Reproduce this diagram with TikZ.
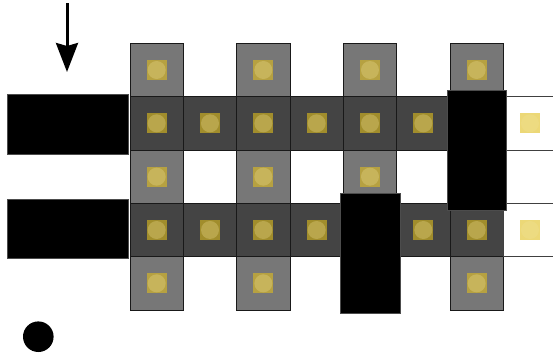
\documentclass[tikz,border=0pt]{standalone}
\usetikzlibrary{arrows.meta}
\definecolor{lgray}{HTML}{777777}
\definecolor{dgray}{HTML}{444444}
\definecolor{goldc}{RGB}{224,190,29}
\tikzset{
  cellbase/.style={minimum size=53.33pt, inner sep=0pt, draw=black!90, line width=0.9pt},
  lcell/.style={cellbase, fill=lgray},
  dcell/.style={cellbase, fill=dgray},
  wcell/.style={cellbase, fill=white, draw=black!75},
  chip/.style={minimum size=20pt, inner sep=0pt, fill=goldc, fill opacity=0.6},
  chipdot/.style={circle, minimum size=18pt, inner sep=0pt, fill=goldc!45!white, fill opacity=0.3},
  blk/.style={fill=black, draw=black!70, line width=0.4pt, inner sep=0pt},
}
\begin{document}
\begin{tikzpicture}[x=1pt,y=-1pt]
\useasboundingbox (0,0) rectangle (553,356);
% cell centers
\def\cx#1{156.67+53.33*#1}
\def\cy#1{70+53.33*#1}
% light gray cells
\foreach \c/\r in {0/0,2/0,4/0,6/0, 0/2,2/2,4/2,6/2, 0/4,2/4,4/4,6/4}{
  \node[lcell] (L\c\r) at ({\cx{\c}},{\cy{\r}}) {};
}
% dark gray cells
\foreach \c in {0,...,6}{
  \node[dcell] (D\c1) at ({\cx{\c}},{\cy{1}}) {};
  \node[dcell] (D\c3) at ({\cx{\c}},{\cy{3}}) {};
}
% white cells at right
\node[wcell] (W71) at ({\cx{7}},{\cy{1}}) {};
\node[wcell] (W73) at ({\cx{7}},{\cy{3}}) {};
% chips
\foreach \c/\r in {0/0,2/0,4/0,6/0, 0/2,2/2,4/2,6/2, 0/4,2/4,4/4,6/4,
  0/1,1/1,2/1,3/1,4/1,5/1,6/1,7/1, 0/3,1/3,2/3,3/3,4/3,5/3,6/3,7/3}{
  \node[chip] (K\c\r) at ({\cx{\c}},{\cy{\r}}) {};
  \node[chipdot] (P\c\r) at ({\cx{\c}},{\cy{\r}}) {};
}
% black blocks
\node[blk, minimum width=120.4pt, minimum height=59.7pt] (B1) at (67.5,124.15) {};
\node[blk, minimum width=120.4pt, minimum height=59.3pt] (B2) at (67.5,228.65) {};
\node[blk, minimum width=59.3pt, minimum height=120pt] (B3) at (476.35,150) {};
\node[blk, minimum width=60pt, minimum height=120.6pt] (B4) at (370,253) {};
% arrow
\coordinate (As) at (67,3);
\coordinate (Ae) at (67,72);
\draw[line width=3pt, -{Stealth[width=22pt,length=29pt,inset=3pt]}] (As) -- (Ae);
% dot
\node[circle, fill=black, minimum size=30.6pt, inner sep=0pt] (dot) at (38.3,336.7) {};
\end{tikzpicture}
\end{document}
